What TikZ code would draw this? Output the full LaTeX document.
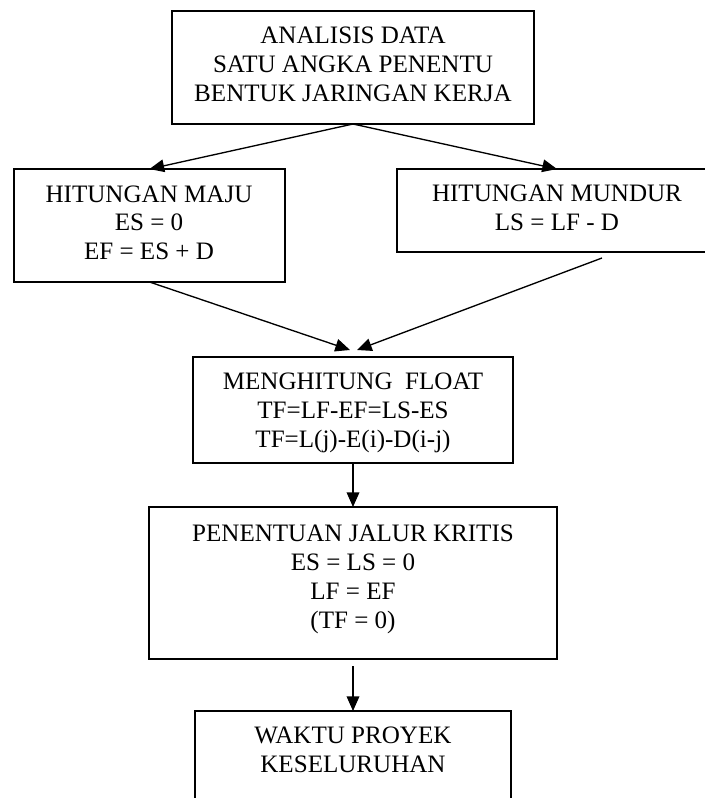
\documentclass[tikz,border=0pt]{standalone}
\usepackage{fontspec}
\setmainfont{Liberation Serif}
\usetikzlibrary{arrows.meta,calc,fit}
\begin{document}
\begin{tikzpicture}[x=0.75pt,y=-0.75pt,
  box/.style={draw=black,line width=1pt,rectangle,inner sep=0pt,outer sep=0pt},
  txt/.style={inner sep=0pt,outer sep=0pt,align=center,anchor=base,
    font=\fontsize{18.8pt}{21.75pt}\selectfont},
  flow/.style={line width=1pt,-{Triangle[length=11pt,width=9.5pt]}}]
\useasboundingbox (0,0) rectangle (705,798);
\clip (0,0) rectangle (705,798);

% boxes
\node[box,fit={(172,11) (534,124)}] (b1) {};
\node[box,fit={(14,169) (285,282)}] (b2) {};
\node[box,fit={(397,169) (717,252)}] (b3) {};
\node[box,fit={(193,357) (513,463)}] (b4) {};
\node[box,fit={(149,507) (557,659)}] (b5) {};
\node[box,fit={(195,711) (511,840)}] (b6) {};

% box texts, placed on the baseline of their last line
\node[txt] (t1) at (353,102) {ANALISIS DATA\\SATU ANGKA PENENTU\\BENTUK JARINGAN KERJA};
\node[txt] (t2) at (149,260) {HITUNGAN MAJU\\ES = 0\\EF = ES + D};
\node[txt] (t3) at (557,231) {HITUNGAN MUNDUR\\LS = LF - D};
\node[txt] (t4) at (353,447) {MENGHITUNG\ \ FLOAT\\TF=LF-EF=LS-ES\\TF=L(j)-E(i)-D(i-j)};
\node[txt] (t5) at (353,628) {PENENTUAN JALUR KRITIS\\ES = LS = 0\\LF = EF\\(TF = 0)};
\node[txt] (t6) at (353,772) {WAKTU PROYEK\\KESELURUHAN};

% connector ends
\coordinate (b3out) at ($(b3.south)+(45,6)$);
\coordinate (b4inL) at ($(b4.north)+(-3,-7)$);
\coordinate (b4inR) at ($(b4.north)+(4,-7)$);
\coordinate (b5out) at ($(b5.south)+(0,7)$);

% connectors
\draw[flow] (b1.south) -- (b2.north);
\draw[flow] (b1.south) -- (b3.north);
\draw[flow] (b2.south) -- (b4inL);
\draw[flow] (b3out) -- (b4inR);
\draw[flow] (b4.south) -- (b5.north);
\draw[flow] (b5out) -- (b6.north);
\end{tikzpicture}
\end{document}
